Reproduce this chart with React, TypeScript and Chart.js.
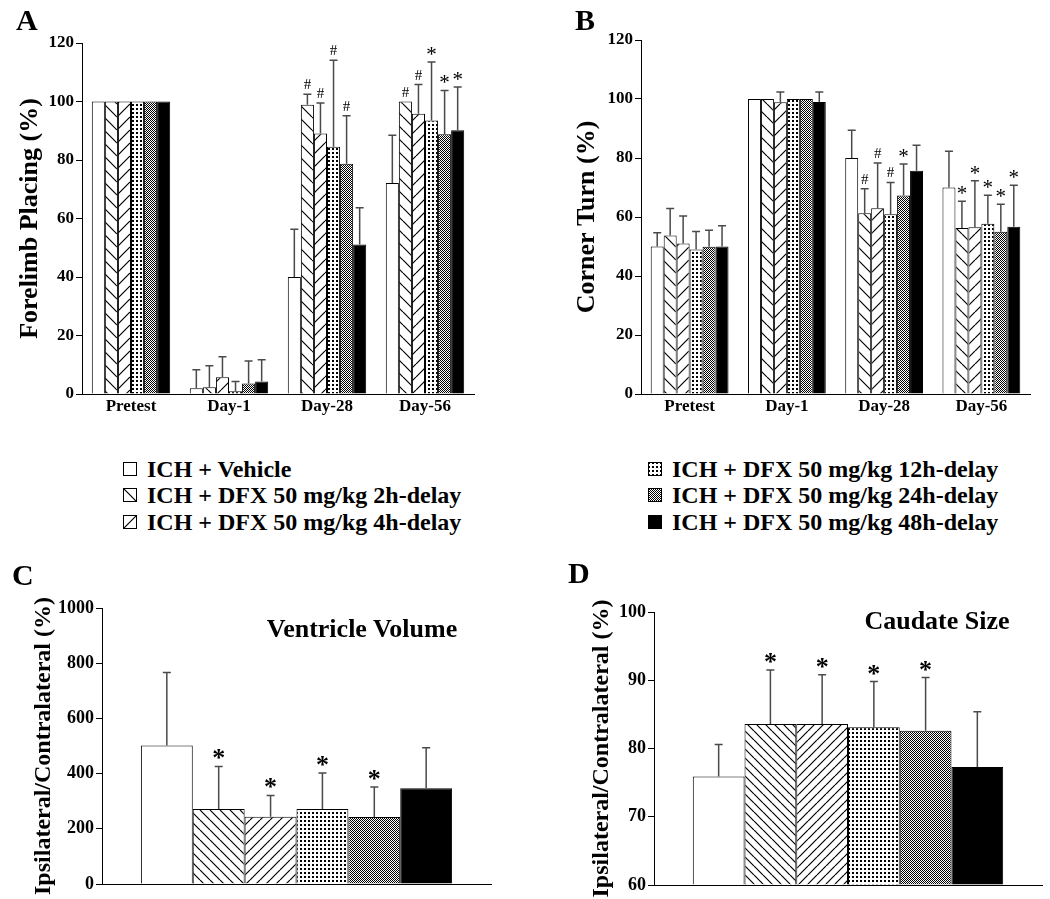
import React, { useEffect, useRef } from "react";
import { Chart, registerables } from "chart.js";
Chart.register(...registerables);

const FONT = "'Liberation Serif', 'Times New Roman', Times, serif";

const groupNames = [
  "ICH + Vehicle",
  "ICH + DFX 50 mg/kg 2h-delay",
  "ICH + DFX 50 mg/kg 4h-delay",
  "ICH + DFX 50 mg/kg 12h-delay",
  "ICH + DFX 50 mg/kg 24h-delay",
  "ICH + DFX 50 mg/kg 48h-delay",
];
const groupKinds = ["open", "back", "fwd", "dots", "checker", "solid"];
const timeLabels = ["Pretest", "Day-1", "Day-28", "Day-56"];

// Panel A – Forelimb placing (%)
const forelimbVehicle = [100, 2.0, 40.0, 72.1];
const forelimb2h = [100, 2.3, 98.9, 100];
const forelimb4h = [100, 5.7, 89.1, 95.8];
const forelimb12h = [100, 0.9, 84.5, 93.5];
const forelimb24h = [100, 3.6, 78.7, 88.8];
const forelimb48h = [100, 4.3, 51.1, 90.2];
const forelimbErrVehicle = [0, 6.3, 16.3, 16.4];
const forelimbErr2h = [0, 7.4, 3.6, 0];
const forelimbErr4h = [0, 7.0, 10.4, 10.0];
const forelimbErr12h = [0, 3.4, 29.6, 20.0];
const forelimbErr24h = [0, 7.7, 16.4, 15.0];
const forelimbErr48h = [0, 7.4, 12.6, 14.8];
const forelimbMarksVehicle = ["", "", "", ""];
const forelimbMarks2h = ["", "", "#", "#"];
const forelimbMarks4h = ["", "", "#", "#"];
const forelimbMarks12h = ["", "", "#", "*"];
const forelimbMarks24h = ["", "", "#", "*"];
const forelimbMarks48h = ["", "", "", "*"];

// Panel B – Corner turn (%)
const cornerVehicle = [50, 100, 80, 70];
const corner2h = [53.7, 100, 61.3, 56.3];
const corner4h = [51, 98.9, 63, 56.5];
const corner12h = [49, 100, 60.9, 57.7];
const corner24h = [49.9, 100, 67.3, 55];
const corner48h = [50, 99, 75.7, 56.7];
const cornerErrVehicle = [4.7, 0, 9.4, 12.3];
const cornerErr2h = [9.2, 0, 8.3, 9.0];
const cornerErr4h = [9.3, 3.5, 15.3, 15.8];
const cornerErr12h = [6.1, 0, 10.8, 9.7];
const cornerErr24h = [5.6, 0, 10.7, 9.3];
const cornerErr48h = [7.0, 3.4, 8.6, 14.1];
const cornerMarksVehicle = ["", "", "", ""];
const cornerMarks2h = ["", "", "#", "*"];
const cornerMarks4h = ["", "", "#", "*"];
const cornerMarks12h = ["", "", "#", "*"];
const cornerMarks24h = ["", "", "*", "*"];
const cornerMarks48h = ["", "", "", "*"];

// Panel C – Ventricle volume
const ventricleMeans = [502, 272, 244, 272, 243, 347];
const ventricleErrors = [264, 154, 77, 130, 108, 147];
const ventricleMarks = ["", "*", "*", "*", "*", ""];

// Panel D – Caudate size
const caudateMeans = [75.9, 83.6, 83.6, 83.1, 82.6, 77.3];
const caudateErrors = [4.7, 7.9, 7.2, 6.7, 7.8, 8.1];
const caudateMarks = ["", "*", "*", "*", "*", ""];

function makeFill(kind: string, spacing: number): any {
  if (kind === "open") return "#ffffff";
  if (kind === "solid") return "#000000";
  const c = document.createElement("canvas");
  const ctx = c.getContext("2d")!;
  if (kind === "dots") {
    c.width = 4;
    c.height = 4;
    ctx.fillStyle = "#fff";
    ctx.fillRect(0, 0, 4, 4);
    ctx.fillStyle = "#000";
    ctx.fillRect(0, 0, 2, 2);
  } else if (kind === "checker") {
    c.width = 2;
    c.height = 2;
    ctx.fillStyle = "#fff";
    ctx.fillRect(0, 0, 2, 2);
    ctx.fillStyle = "#000";
    ctx.fillRect(0, 0, 1, 1);
    ctx.fillRect(1, 1, 1, 1);
  } else {
    const s = spacing;
    c.width = s;
    c.height = s;
    ctx.fillStyle = "#fff";
    ctx.fillRect(0, 0, s, s);
    ctx.strokeStyle = "#000";
    ctx.lineWidth = 1.2;
    ctx.beginPath();
    for (const k of [-s, 0, s]) {
      if (kind === "back") {
        ctx.moveTo(k, 0);
        ctx.lineTo(k + s, s);
      } else {
        ctx.moveTo(k, s);
        ctx.lineTo(k + s, 0);
      }
    }
    ctx.stroke();
  }
  return ctx.createPattern(c, "repeat");
}

const errorBarPlugin = {
  id: "errBars",
  afterDatasetsDraw(chart: any, _args: any, o: any) {
    const ctx = chart.ctx;
    const yScale = chart.scales.y;
    chart.data.datasets.forEach((ds: any, i: number) => {
      const meta = chart.getDatasetMeta(i);
      meta.data.forEach((el: any, j: number) => {
        const v = ds.data[j];
        const e = ds.errors ? ds.errors[j] : 0;
        const x = el.x;
        const top = yScale.getPixelForValue(v + e);
        ctx.save();
        if (e > 0) {
          ctx.strokeStyle = o.color;
          ctx.lineWidth = o.width;
          ctx.beginPath();
          ctx.moveTo(x, el.y);
          ctx.lineTo(x, top);
          ctx.moveTo(x - o.cap / 2, top);
          ctx.lineTo(x + o.cap / 2, top);
          ctx.stroke();
        }
        const m = ds.marks ? ds.marks[j] : "";
        if (m) {
          ctx.fillStyle = "#000";
          ctx.textAlign = "center";
          ctx.textBaseline = "alphabetic";
          if (m === "#") {
            ctx.font = o.hashFont;
            ctx.fillText(m, x, top - o.hashGap);
          } else {
            ctx.font = o.starFont;
            ctx.fillText(m, x, top - o.starGap);
          }
        }
        ctx.restore();
      });
    });
  },
};

type PanelCfg = {
  width: number;
  height: number;
  area: { left: number; top: number; right: number; bottom: number };
  padL: number;
  labels: string[];
  showX: boolean;
  means: number[][];
  errors: number[][];
  marks: string[][];
  yMin: number;
  yMax: number;
  yStep: number;
  yTitle: string;
  yTitleSize: number;
  tickSize: number;
  spacing: number;
  hashFont: string;
  starFont: string;
  starGap: number;
};

function buildBarChart(canvas: HTMLCanvasElement, cfg: PanelCfg) {
  const fills = groupKinds.map((k) => makeFill(k, cfg.spacing));
  const datasets = cfg.means.map((d, i) => ({
    label: groupNames[i],
    data: d,
    errors: cfg.errors[i],
    marks: cfg.marks[i],
    backgroundColor: fills[i],
    borderColor: "#000",
    borderWidth: 1,
    borderSkipped: "start",
    categoryPercentage: 0.8,
    barPercentage: 1,
    base: cfg.yMin,
  }));
  return new Chart(canvas, {
    type: "bar",
    data: { labels: cfg.labels, datasets: datasets as any },
    options: {
      responsive: false,
      animation: false,
      events: [],
      layout: {
        padding: {
          left: cfg.padL,
          top: cfg.area.top,
          right: cfg.width - cfg.area.right,
          bottom: 0,
        },
      },
      plugins: {
        legend: { display: false },
        tooltip: { enabled: false },
        errBars: {
          color: "#4a4a4a",
          width: 1.5,
          cap: 8,
          hashFont: cfg.hashFont,
          starFont: cfg.starFont,
          hashGap: 5,
          starGap: cfg.starGap,
        },
      } as any,
      scales: {
        x: {
          type: "category",
          grid: { display: false, drawTicks: false },
          border: { display: true, color: "#000", width: 1 },
          ticks: {
            display: cfg.showX,
            color: "#000",
            padding: 2,
            font: { family: FONT, size: 17, weight: "bold" },
          },
          afterFit: (s: any) => {
            s.height = cfg.height - cfg.area.bottom;
          },
        },
        y: {
          min: cfg.yMin,
          max: cfg.yMax,
          grid: {
            display: true,
            drawOnChartArea: false,
            drawTicks: true,
            tickLength: 6,
            color: "#000",
          },
          border: { display: true, color: "#000", width: 1 },
          ticks: {
            stepSize: cfg.yStep,
            color: "#000",
            padding: 2,
            font: { family: FONT, size: cfg.tickSize, weight: "bold" },
            callback: (v: any) => String(v),
          },
          title: {
            display: true,
            text: cfg.yTitle,
            color: "#000",
            padding: { top: 4, bottom: 4 },
            font: { family: FONT, size: cfg.yTitleSize, weight: "bold" },
          },
          afterFit: (s: any) => {
            s.width = cfg.area.left - cfg.padL;
          },
        },
      },
    } as any,
    plugins: [errorBarPlugin as any],
  });
}

function Panel(props: { left: number; top: number; cfg: PanelCfg }) {
  const ref = useRef<HTMLCanvasElement>(null);
  useEffect(() => {
    const chart = buildBarChart(ref.current!, props.cfg);
    return () => chart.destroy();
  }, []);
  return (
    <canvas
      ref={ref}
      width={props.cfg.width}
      height={props.cfg.height}
      style={{
        position: "absolute",
        left: props.left,
        top: props.top,
        width: props.cfg.width,
        height: props.cfg.height,
      }}
    />
  );
}

function Swatch(props: { kind: string }) {
  const ref = useRef<HTMLCanvasElement>(null);
  useEffect(() => {
    const c = ref.current!;
    const ctx = c.getContext("2d")!;
    ctx.clearRect(0, 0, 14, 14);
    ctx.fillStyle = makeFill(props.kind, 14);
    ctx.fillRect(0, 0, 14, 14);
    ctx.strokeStyle = "#000";
    ctx.lineWidth = 1;
    ctx.strokeRect(0.5, 0.5, 13, 13);
  }, []);
  return <canvas ref={ref} width={14} height={14} style={{ position: "absolute", left: 0, top: 5 }} />;
}

const panelA: PanelCfg = {
  width: 500,
  height: 420,
  area: { left: 82, top: 43, right: 474, bottom: 394 },
  padL: 11,
  labels: timeLabels,
  showX: true,
  means: [forelimbVehicle, forelimb2h, forelimb4h, forelimb12h, forelimb24h, forelimb48h],
  errors: [forelimbErrVehicle, forelimbErr2h, forelimbErr4h, forelimbErr12h, forelimbErr24h, forelimbErr48h],
  marks: [forelimbMarksVehicle, forelimbMarks2h, forelimbMarks4h, forelimbMarks12h, forelimbMarks24h, forelimbMarks48h],
  yMin: 0,
  yMax: 120,
  yStep: 20,
  yTitle: "Forelimb Placing (%)",
  yTitleSize: 26,
  tickSize: 17,
  spacing: 13,
  hashFont: `15px ${FONT}`,
  starFont: `21px ${FONT}`,
  starGap: 1,
};

const panelB: PanelCfg = {
  width: 530,
  height: 420,
  area: { left: 121, top: 40, right: 510, bottom: 394 },
  padL: 48,
  labels: timeLabels,
  showX: true,
  means: [cornerVehicle, corner2h, corner4h, corner12h, corner24h, corner48h],
  errors: [cornerErrVehicle, cornerErr2h, cornerErr4h, cornerErr12h, cornerErr24h, cornerErr48h],
  marks: [cornerMarksVehicle, cornerMarks2h, cornerMarks4h, cornerMarks12h, cornerMarks24h, cornerMarks48h],
  yMin: 0,
  yMax: 120,
  yStep: 20,
  yTitle: "Corner Turn (%)",
  yTitleSize: 26,
  tickSize: 17,
  spacing: 13,
  hashFont: `15px ${FONT}`,
  starFont: `21px ${FONT}`,
  starGap: 1,
};

const panelC: PanelCfg = {
  width: 520,
  height: 339,
  area: { left: 102, top: 48, right: 491, bottom: 324 },
  padL: 25,
  labels: [""],
  showX: false,
  means: ventricleMeans.map((v) => [v]),
  errors: ventricleErrors.map((v) => [v]),
  marks: ventricleMarks.map((v) => [v]),
  yMin: 0,
  yMax: 1000,
  yStep: 200,
  yTitle: "Ipsilateral/Contralateral (%)",
  yTitleSize: 24,
  tickSize: 18,
  spacing: 10,
  hashFont: `15px ${FONT}`,
  starFont: `bold 26px ${FONT}`,
  starGap: 0,
};

const panelD: PanelCfg = {
  width: 530,
  height: 339,
  area: { left: 134, top: 52, right: 522, bottom: 325 },
  padL: 63,
  labels: [""],
  showX: false,
  means: caudateMeans.map((v) => [v]),
  errors: caudateErrors.map((v) => [v]),
  marks: caudateMarks.map((v) => [v]),
  yMin: 60,
  yMax: 100,
  yStep: 10,
  yTitle: "Ipsilateral/Contralateral (%)",
  yTitleSize: 24,
  tickSize: 18,
  spacing: 9,
  hashFont: `15px ${FONT}`,
  starFont: `bold 26px ${FONT}`,
  starGap: 0,
};

const textBase: React.CSSProperties = {
  position: "absolute",
  fontFamily: FONT,
  fontWeight: "bold",
  color: "#000",
  whiteSpace: "nowrap",
};

function LegendRow(props: { left: number; top: number; index: number }) {
  return (
    <div style={{ ...textBase, left: props.left, top: props.top, height: 24, fontSize: 24, lineHeight: "24px" }}>
      <Swatch kind={groupKinds[props.index]} />
      <span style={{ position: "absolute", left: 24, top: 0 }}>{groupNames[props.index]}</span>
    </div>
  );
}

export default function App() {
  return (
    <div style={{ position: "absolute", left: 0, top: 0, width: 1050, height: 899, background: "#fff", overflow: "hidden" }}>
      <Panel left={0} top={0} cfg={panelA} />
      <Panel left={520} top={0} cfg={panelB} />
      <Panel left={0} top={560} cfg={panelC} />
      <Panel left={520} top={560} cfg={panelD} />

      <div style={{ ...textBase, left: 16, top: 5, fontSize: 30, lineHeight: "30px" }}>A</div>
      <div style={{ ...textBase, left: 575, top: 5, fontSize: 30, lineHeight: "30px" }}>B</div>
      <div style={{ ...textBase, left: 12, top: 560, fontSize: 30, lineHeight: "30px" }}>C</div>
      <div style={{ ...textBase, left: 568, top: 558, fontSize: 30, lineHeight: "30px" }}>D</div>

      <div style={{ ...textBase, left: 212, width: 300, textAlign: "center", top: 616, fontSize: 26, lineHeight: "26px" }}>
        Ventricle Volume
      </div>
      <div style={{ ...textBase, left: 787, width: 300, textAlign: "center", top: 608, fontSize: 26, lineHeight: "26px" }}>
        Caudate Size
      </div>

      <LegendRow left={123} top={457} index={0} />
      <LegendRow left={123} top={483} index={1} />
      <LegendRow left={123} top={510} index={2} />
      <LegendRow left={648} top={457} index={3} />
      <LegendRow left={648} top={483} index={4} />
      <LegendRow left={648} top={510} index={5} />
    </div>
  );
}
